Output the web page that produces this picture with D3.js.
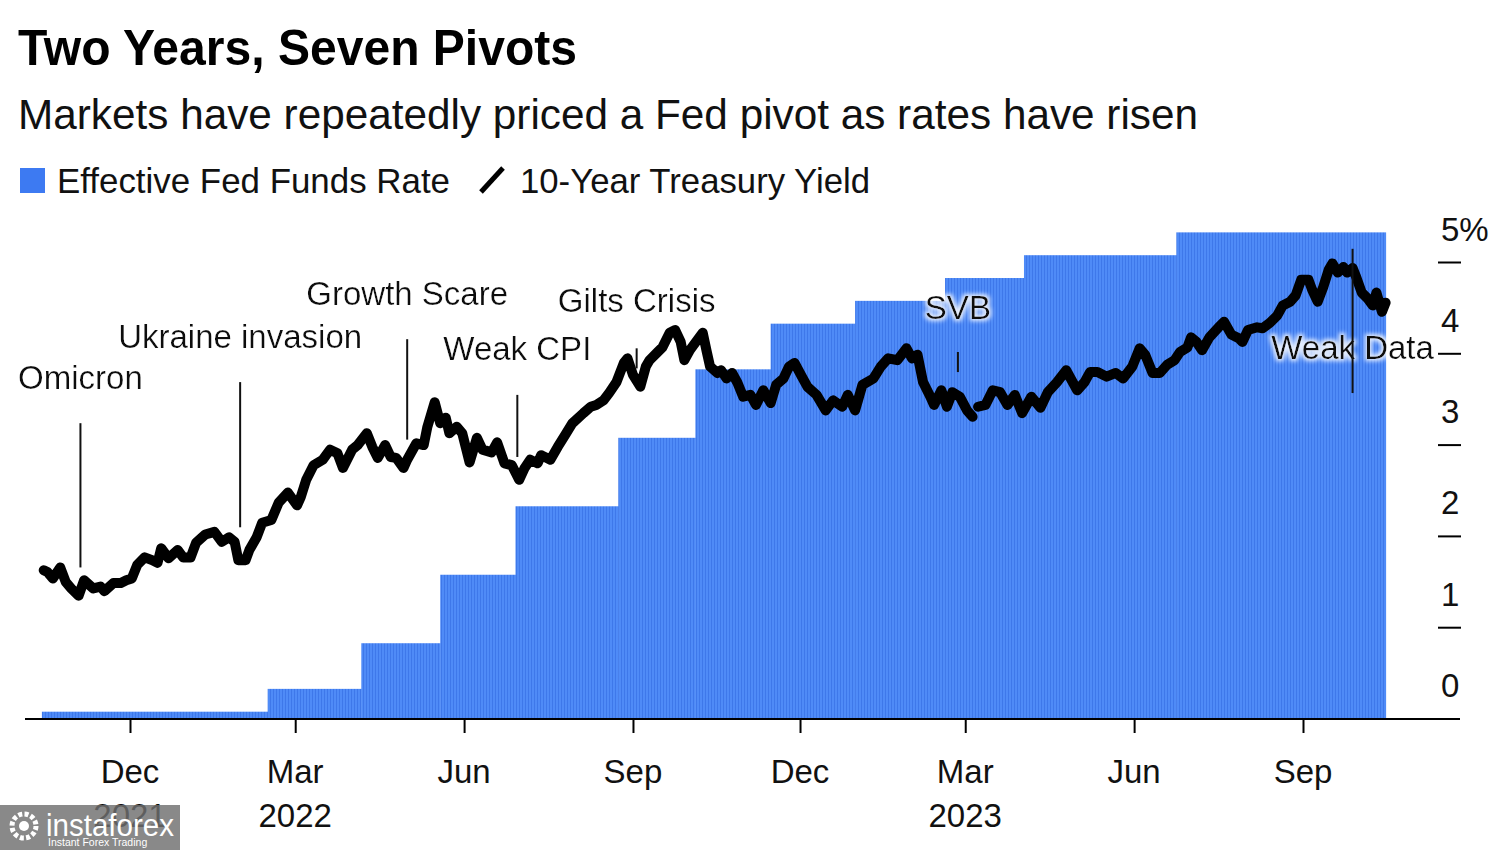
<!DOCTYPE html>
<html>
<head>
<meta charset="utf-8">
<script src="https://cdn.jsdelivr.net/npm/d3@7"></script>
<style>
  html, body { margin: 0; padding: 0; background: #fff; }
  svg { display: block; font-family: "Liberation Sans", Arial, Helvetica, sans-serif; }
</style>
</head>
<body>
<svg id="chart" width="1500" height="850"></svg>
<script>
// ---------- DATA ----------
const titleText = "Two Years, Seven Pivots";
const subtitleText = "Markets have repeatedly priced a Fed pivot as rates have risen";
const legendLabels = ["Effective Fed Funds Rate", "10-Year Treasury Yield"];

// Effective Fed Funds Rate (step start dates and levels, %)
const fedStart = ["2021-10-14","2022-02-14","2022-04-06","2022-05-19","2022-06-29","2022-08-24",
                  "2022-10-05","2022-11-15","2022-12-31","2023-02-18","2023-04-02","2023-06-24"];
const fedRate  = [0.08, 0.33, 0.83, 1.58, 2.33, 3.08, 3.83, 4.33, 4.58, 4.83, 5.08, 5.33];
const fedEnd   = "2023-10-16";

// 10-Year Treasury Yield (%), null = gap in series
const yieldDates = [
"2021-10-15","2021-10-17","2021-10-20","2021-10-24","2021-10-27","2021-10-30","2021-11-03","2021-11-06",
"2021-11-11","2021-11-15","2021-11-17","2021-11-22","2021-11-26","2021-11-29","2021-12-02","2021-12-05",
"2021-12-09","2021-12-13","2021-12-16","2021-12-18","2021-12-22","2021-12-27","2021-12-30","2022-01-03",
"2022-01-06","2022-01-11","2022-01-16","2022-01-20","2022-01-24","2022-01-27","2022-01-29","2022-02-02",
"2022-02-04","2022-02-08","2022-02-11","2022-02-16","2022-02-20","2022-02-25","2022-03-02","2022-03-04",
"2022-03-07","2022-03-11","2022-03-16","2022-03-20","2022-03-24","2022-03-27","2022-04-01","2022-04-04",
"2022-04-09","2022-04-12","2022-04-15","2022-04-19","2022-04-22","2022-04-25","2022-04-29","2022-05-01",
"2022-05-06","2022-05-10","2022-05-12","2022-05-16","2022-05-19","2022-05-22","2022-05-24","2022-05-28",
"2022-05-31","2022-06-04","2022-06-08","2022-06-11","2022-06-16","2022-06-19","2022-06-23","2022-06-27",
"2022-07-01","2022-07-04","2022-07-07","2022-07-11","2022-07-13","2022-07-18","2022-07-22","2022-07-26",
"2022-07-30","2022-08-05","2022-08-09","2022-08-12","2022-08-16","2022-08-19","2022-08-23","2022-08-27",
"2022-08-29","2022-09-01","2022-09-05","2022-09-08","2022-09-10","2022-09-14","2022-09-17","2022-09-21",
"2022-09-24","2022-09-27","2022-09-29","2022-10-02","2022-10-06","2022-10-09","2022-10-11","2022-10-13",
"2022-10-17","2022-10-19","2022-10-22","2022-10-25","2022-10-28","2022-10-31","2022-11-04","2022-11-07",
"2022-11-11","2022-11-15","2022-11-18","2022-11-22","2022-11-25","2022-11-28","2022-12-02","2022-12-05",
"2022-12-10","2022-12-15","2022-12-19","2022-12-24","2022-12-27","2022-12-31","2023-01-04","2023-01-10",
"2023-01-14","2023-01-18","2023-01-23","2023-01-28","2023-01-31","2023-02-03","2023-02-06","2023-02-10",
"2023-02-12","2023-02-16","2023-02-19","2023-02-22","2023-02-26","2023-03-02","2023-03-05","2023-03-06",
"2023-03-08","2023-03-12","2023-03-16","2023-03-20","2023-03-24","2023-03-28","2023-04-01","2023-04-06",
"2023-04-11","2023-04-15","2023-04-20","2023-04-25","2023-05-01","2023-05-05","2023-05-08","2023-05-12",
"2023-05-17","2023-05-22","2023-05-26","2023-05-31","2023-06-04","2023-06-07","2023-06-11","2023-06-15",
"2023-06-19","2023-06-23","2023-06-26","2023-06-30","2023-07-02","2023-07-05","2023-07-08","2023-07-12",
"2023-07-17","2023-07-20","2023-07-24","2023-07-28","2023-07-30","2023-08-02","2023-08-07","2023-08-10",
"2023-08-14","2023-08-18","2023-08-21","2023-08-25","2023-08-28","2023-08-31","2023-09-04","2023-09-06",
"2023-09-09","2023-09-12","2023-09-15","2023-09-17","2023-09-20","2023-09-23","2023-09-25","2023-09-28",
"2023-09-30","2023-10-03","2023-10-06","2023-10-09","2023-10-11","2023-10-14","2023-10-16"];
const yieldValues = [
1.63,1.61,1.54,1.66,1.50,1.43,1.35,1.52,
1.43,1.45,1.40,1.49,1.49,1.52,1.54,1.69,
1.77,1.74,1.71,1.87,1.76,1.85,1.77,1.77,
1.93,2.02,2.05,1.94,1.99,1.94,1.74,1.74,
1.85,1.99,2.15,2.18,2.37,2.48,2.34,2.43,
2.62,2.78,2.84,2.95,2.91,2.75,2.95,3.00,
3.13,2.98,2.86,3.00,2.87,2.86,2.75,2.84,
3.02,3.00,3.20,3.47,3.24,3.30,3.13,3.20,
3.13,2.81,3.08,2.95,2.92,3.03,2.80,2.78,
2.62,2.75,2.84,2.80,2.89,2.84,2.98,3.11,
3.24,3.35,3.42,3.44,3.49,3.57,3.69,3.90,
3.95,3.77,3.64,3.86,3.93,4.01,4.07,4.23,
4.26,4.13,3.93,4.04,4.15,4.23,4.04,3.86,
3.79,3.82,3.73,3.79,3.68,3.53,3.55,3.44,
3.60,3.46,3.66,3.73,3.86,3.90,3.75,3.64,
3.55,3.38,3.49,3.42,3.55,3.38,3.66,3.73,
3.86,3.95,3.93,4.06,3.95,3.99,3.69,3.53,
3.44,3.60,3.42,3.58,3.53,3.38,3.31,null,
3.42,3.44,3.60,3.58,3.44,3.55,3.35,3.53,
3.41,3.58,3.69,3.82,3.60,3.69,3.80,3.80,
3.75,3.79,3.73,3.86,4.06,3.99,3.79,3.79,
3.88,3.93,4.02,4.07,4.18,4.13,4.04,4.18,
4.29,4.35,4.21,4.17,4.13,4.26,4.29,4.28,
4.34,4.42,4.53,4.57,4.64,4.81,4.81,4.70,
4.57,4.73,4.92,4.99,4.89,4.95,4.89,4.94,
4.84,4.67,4.61,4.53,4.67,4.46,4.56];

// Annotations: date, leader line extent and label level (in % units)
const annoLabels = ["Omicron","Ukraine invasion","Growth Scare","Weak CPI","Gilts Crisis","SVB","Weak Data"];
const annoDates  = ["2021-11-04","2022-01-30","2022-05-01","2022-06-30","2022-09-03","2023-02-25","2023-09-28"];
const annoTop    = [3.24, 3.69, 4.16, 3.55, 4.06, 4.02, 5.15];
const annoBottom = [1.66, 2.10, 3.06, 2.87, 3.84, 3.80, 3.57];
const annoLabelAt= [3.75, 4.19, 4.67, 4.06, 4.59, 4.51, 4.07];

// Axis ticks
const xTickDates  = ["2021-12-01","2022-03-01","2022-06-01","2022-09-01","2022-12-01","2023-03-01","2023-06-01","2023-09-01"];
const xTickLabels = ["Dec","Mar","Jun","Sep","Dec","Mar","Jun","Sep"];
const xYearLabels = ["2021","2022","","","","2023","",""];
const yTickValues = [0,1,2,3,4,5];
const yTickLabels = ["0","1","2","3","4","5%"];

// ---------- CHART ----------
const parse = d3.utcParse("%Y-%m-%d");
const svg = d3.select("#chart");

const x = d3.scaleUtc()
  .domain([parse("2021-12-01"), parse("2023-09-01")])
  .range([130, 1303]);
const y = d3.scaleLinear().domain([0, 5]).range([719, 262.5]);

const defs = svg.append("defs");
const pat = defs.append("pattern").attr("id","stripes")
  .attr("patternUnits","userSpaceOnUse").attr("width",3).attr("height",10);
pat.append("rect").attr("width",3).attr("height",10).attr("fill","#4f8bf7");
pat.append("rect").attr("width",1).attr("height",10).attr("fill","#3e78ea");

const halo = defs.append("filter").attr("id","halo").attr("x","-10%").attr("y","-30%").attr("width","120%").attr("height","160%");
halo.append("feMorphology").attr("in","SourceAlpha").attr("operator","dilate").attr("radius",2).attr("result","d");
halo.append("feGaussianBlur").attr("in","d").attr("stdDeviation",2.2).attr("result","b");
halo.append("feFlood").attr("flood-color","#fff").attr("flood-opacity",0.85);
halo.append("feComposite").attr("in2","b").attr("operator","in").attr("result","w");
const hm = halo.append("feMerge");
hm.append("feMergeNode").attr("in","w");
hm.append("feMergeNode").attr("in","SourceGraphic");

// Title & subtitle
svg.append("text").attr("x",18).attr("y",65)
  .attr("font-size",50).attr("font-weight","bold").attr("fill","#000")
  .attr("textLength",559).attr("lengthAdjust","spacingAndGlyphs")
  .text(titleText);
svg.append("text").attr("x",18).attr("y",129)
  .attr("font-size",42).attr("fill","#111")
  .attr("textLength",1180).attr("lengthAdjust","spacingAndGlyphs")
  .text(subtitleText);

// Legend
svg.append("rect").attr("x",20).attr("y",168).attr("width",25).attr("height",25).attr("fill","#3d7af2");
svg.append("text").attr("x",57).attr("y",193).attr("font-size",35).attr("fill","#111")
  .attr("textLength",393).attr("lengthAdjust","spacingAndGlyphs").text(legendLabels[0]);
svg.append("line").attr("x1",481).attr("y1",192).attr("x2",503).attr("y2",168)
  .attr("stroke","#000").attr("stroke-width",5).attr("stroke-linecap","butt");
svg.append("text").attr("x",520).attr("y",193).attr("font-size",35).attr("fill","#111")
  .attr("textLength",350).attr("lengthAdjust","spacingAndGlyphs").text(legendLabels[1]);

// Fed funds bars (step segments)
const fedData = fedStart.map((d,i) => ({
  start: parse(d),
  end: parse(i < fedStart.length - 1 ? fedStart[i+1] : fedEnd),
  v: fedRate[i]
}));
svg.append("g").selectAll("rect").data(fedData).join("rect")
  .attr("x", d => x(d.start))
  .attr("y", d => y(d.v))
  .attr("width", d => x(d.end) - x(d.start) + 0.5)
  .attr("height", d => y(0) - y(d.v))
  .attr("fill","url(#stripes)");

// Baseline
svg.append("line").attr("x1",25).attr("x2",1460).attr("y1",y(0)).attr("y2",y(0))
  .attr("stroke","#000").attr("stroke-width",2.2);

// X axis
const xAxis = d3.axisBottom(x)
  .tickValues(xTickDates.map(parse))
  .tickSize(14).tickFormat("");
const gx = svg.append("g").attr("transform",`translate(0,${y(0)})`).call(xAxis);
gx.select(".domain").remove();
gx.selectAll(".tick line").attr("stroke","#000").attr("stroke-width",2);

const xl = svg.append("g").attr("font-size",33).attr("fill","#111").attr("text-anchor","middle");
xTickDates.forEach((d,i) => {
  xl.append("text").attr("x",x(parse(d))).attr("y",783).text(xTickLabels[i]);
  if (xYearLabels[i]) xl.append("text").attr("x",x(parse(d))).attr("y",827).text(xYearLabels[i]);
});

// Y axis (right)
const gy = svg.append("g");
yTickValues.forEach((v,i) => {
  if (v > 0) gy.append("line").attr("x1",1438).attr("x2",1461).attr("y1",y(v)).attr("y2",y(v))
    .attr("stroke","#000").attr("stroke-width",2);
  gy.append("text").attr("x",1441).attr("y",y(v) - 22).attr("font-size",33).attr("fill","#111")
    .text(yTickLabels[i]);
});

// Yield line
const yieldData = yieldDates.map((d,i) => ({ date: parse(d), v: yieldValues[i] }));
const line = d3.line().defined(d => d.v != null).x(d => x(d.date)).y(d => y(d.v));
svg.append("path").datum(yieldData).attr("d", line)
  .attr("fill","none").attr("stroke","#000").attr("stroke-width",10)
  .attr("stroke-linejoin","round").attr("stroke-linecap","round");

// Annotations
const ga = svg.append("g");
annoLabels.forEach((lab,i) => {
  const ax = x(parse(annoDates[i]));
  ga.append("text").attr("x",ax).attr("y",y(annoLabelAt[i]) + 12)
    .attr("text-anchor","middle").attr("font-size",33).attr("fill","#111")
    .attr("filter","url(#halo)")
    .text(lab);
});
annoLabels.forEach((lab,i) => {
  const ax = x(parse(annoDates[i]));
  ga.append("line").attr("x1",ax).attr("x2",ax)
    .attr("y1",y(annoTop[i])).attr("y2",y(annoBottom[i]))
    .attr("stroke","#111").attr("stroke-width",2);
});

// Watermark
const wm = svg.append("g");
wm.append("rect").attr("x",0).attr("y",805).attr("width",180).attr("height",45)
  .attr("fill","#6f6f6f").attr("opacity",0.82);
wm.append("circle").attr("cx",24).attr("cy",826).attr("r",12)
  .attr("fill","none").attr("stroke","#fff").attr("stroke-width",5).attr("stroke-dasharray","4 2.3");
wm.append("circle").attr("cx",24).attr("cy",826).attr("r",5).attr("fill","#fff");
wm.append("text").attr("x",46).attr("y",836).attr("font-size",31).attr("fill","#fff")
  .attr("textLength",128).attr("lengthAdjust","spacingAndGlyphs").text("instaforex");
wm.append("text").attr("x",48).attr("y",846).attr("font-size",10.5).attr("fill","#fff")
  .text("Instant Forex Trading");
</script>
</body>
</html>
